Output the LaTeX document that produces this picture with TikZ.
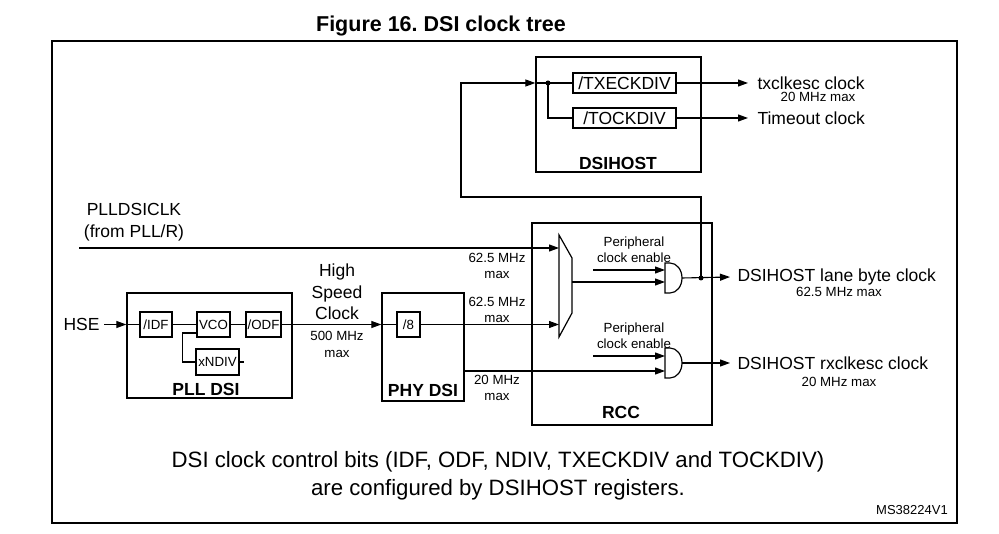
\documentclass[tikz,border=0pt]{standalone}
\usepackage{fontspec}
\setmainfont{Liberation Sans}
\usetikzlibrary{arrows.meta,positioning}
\frenchspacing

\newcommand\lbltxt{\fontsize{17.5}{21.5}\selectfont}
\newcommand\smltxt{\fontsize{13.3}{16}\selectfont}
\newcommand\boldtxt{\fontsize{17.5}{21}\selectfont\bfseries}
\newcommand\ttltxt{\fontsize{21.5}{26}\selectfont\bfseries}
\newcommand\notetxt{\fontsize{22.2}{28}\selectfont}

\begin{document}
\begin{tikzpicture}[x=1pt, y=-1pt, line width=1.1pt,
  >={Triangle[length=10pt,width=7pt]},
  bigbox/.style={draw, line width=1.3pt, inner sep=0pt},
  divbox/.style={draw, line width=1.1pt, inner sep=0pt, minimum height=25pt, font=\smltxt},
  hostbox/.style={draw, line width=1.1pt, inner sep=0pt, minimum width=103pt, minimum height=20pt, font=\lbltxt},
  blkname/.style={font=\boldtxt, inner sep=0pt},
  lbl/.style={font=\lbltxt, inner sep=0pt, align=center},
  sml/.style={font=\smltxt, inner sep=0pt, align=center}]

\useasboundingbox (0,0) rectangle (999,534);

% title and frame
\node[font=\ttltxt, inner sep=0pt] (ttl) at (441,26) {Figure 16. DSI clock tree};
\draw[line width=2pt] (52,41) rectangle (957,523);

% PLL DSI
\node[bigbox, minimum width=165pt, minimum height=105pt] (pll) at (209.5,345.5) {};
\node[blkname] (pllname) at (206,389) {PLL DSI};
\node[divbox, minimum width=32pt] (idf) at (156,324.5) {/IDF};
\node[divbox, minimum width=33pt] (vco) at (213.5,324.5) {VCO};
\node[divbox, minimum width=35pt] (odf) at (263.5,324.5) {/ODF};
\node[divbox, minimum width=43pt, minimum height=26pt] (ndiv) at (217.5,362) {xNDIV};
\node[lbl, anchor=west] (hse) at (63,324.5) {HSE};

% PHY DSI
\node[bigbox, minimum width=82pt, minimum height=108pt] (phy) at (423,347) {};
\node[blkname] (phyname) at (423,390) {PHY DSI};
\node[divbox, minimum width=23pt] (div8) at (408.5,324.5) {/8};

% RCC
\node[bigbox, minimum width=180pt, minimum height=202pt] (rcc) at (622,324) {};
\node[blkname] (rccname) at (621,412) {RCC};

% DSIHOST
\node[bigbox, minimum width=165pt, minimum height=115pt] (host) at (618.5,114.5) {};
\node[blkname] (hostname) at (618,163) {DSIHOST};
\node[hostbox] (txdiv) at (624.5,83) {/TXECKDIV};
\node[hostbox] (todiv) at (624.5,118) {/TOCKDIV};

% labels
\node[lbl] (pllsrc) at (134,222) {PLLDSICLK\\(from PLL/R)};
\node[lbl, font=\fontsize{17.5}{21.5}\selectfont] (hsclk) at (337,292) {High\\Speed\\Clock};
\node[sml, font=\fontsize{13.3}{17}\selectfont] (hsmax) at (337,344.5) {500 MHz\\max};
\node[sml] (f1max) at (497,265.5) {62.5 MHz\\max};
\node[sml] (f2max) at (497,310) {62.5 MHz\\max};
\node[sml] (f3max) at (497,388) {20 MHz\\max};
\node[sml] (en1) at (634,250) {Peripheral\\clock enable};
\node[sml] (en2) at (634,336) {Peripheral\\clock enable};

\node[lbl, anchor=west] (lane) at (737,277) {DSIHOST lane byte clock};
\node[sml] (lanemax) at (839,292) {62.5 MHz max};
\node[lbl, anchor=west] (rx) at (737,363) {DSIHOST rxclkesc clock};
\node[sml] (rxmax) at (839,382) {20 MHz max};
\node[lbl, anchor=west] (txclk) at (757,83) {txclkesc clock};
\node[sml] (txmax) at (818,97) {20 MHz max};
\node[lbl, anchor=west] (toclk) at (757,118) {Timeout clock};

\node[font=\notetxt, align=center, inner sep=0pt] (note) at (498,476)
  {DSI clock control bits (IDF, ODF, NDIV, TXECKDIV and TOCKDIV)\\are configured by DSIHOST registers.};
\node[font=\fontsize{13}{15}\selectfont, inner sep=0pt] (ref) at (912,510) {MS38224V1};

% mux and gates
\coordinate (muxa) at (559,248);
\coordinate (muxb) at (559,324.5);
\coordinate (muxout) at (572,282);
\draw[line width=1.2pt] (559,235) -- (572,258) -- (572,313) -- (559,337) -- cycle;
\draw[line width=1.2pt] (665,263) -- (670,263) arc[start angle=-90, end angle=90, x radius=12, y radius=15] -- (665,293) -- cycle;
\draw[line width=1.2pt] (665,348) -- (670,348) arc[start angle=-90, end angle=90, x radius=12, y radius=15] -- (665,378) -- cycle;
\coordinate (g1a) at (665,270);
\coordinate (g1b) at (665,282);
\coordinate (g1out) at (682,278);
\coordinate (g2a) at (665,356);
\coordinate (g2b) at (665,371);
\coordinate (g2out) at (682,363);
\coordinate (lanedot) at (701,278);
\coordinate (txdot) at (548,83);

% connections
\draw[->] ([xshift=4pt]hse.east) -- (pll.west |- idf.west);
\draw (pll.west |- idf.west) -- (idf.west);
\draw (idf) -- (vco);
\draw (vco) -- (odf);
\draw ([yshift=-8.5pt]vco.west) -- ++(-14,0) |- (ndiv.west);
\draw (ndiv.east) -- ++(4,0);
\draw[->] (odf) -- (phy.west |- odf);
\draw (phy.west |- div8) -- (div8.west);
\draw[->] (div8) -- (muxb);
\draw[->] (79,248) -- (muxa);
\draw[->] (muxout) -- (g1b);
\draw[->] (593,270) -- (g1a);
\draw[->] (593,356) -- (g2a);
\draw[->] (phy.east |- g2b) -- (g2b);
\draw[->] (g1out) -- ([xshift=-7pt]lane.west);
\draw[->] (g2out) -- ([xshift=-7pt]rx.west);
\fill (lanedot) circle[radius=2.5pt];
\draw[->] (lanedot) -- (701,197) -- (461,197) -- (461,83) -- (host.west |- txdot);
\draw (host.west |- txdot) -- (txdiv.west);
\fill (txdot) circle[radius=2.5pt];
\draw (txdot) |- (todiv.west);
\draw[->] (txdiv.east) -- ([xshift=-9pt]txclk.west);
\draw[->] (todiv.east) -- ([xshift=-9pt]toclk.west);

\end{tikzpicture}
\end{document}
